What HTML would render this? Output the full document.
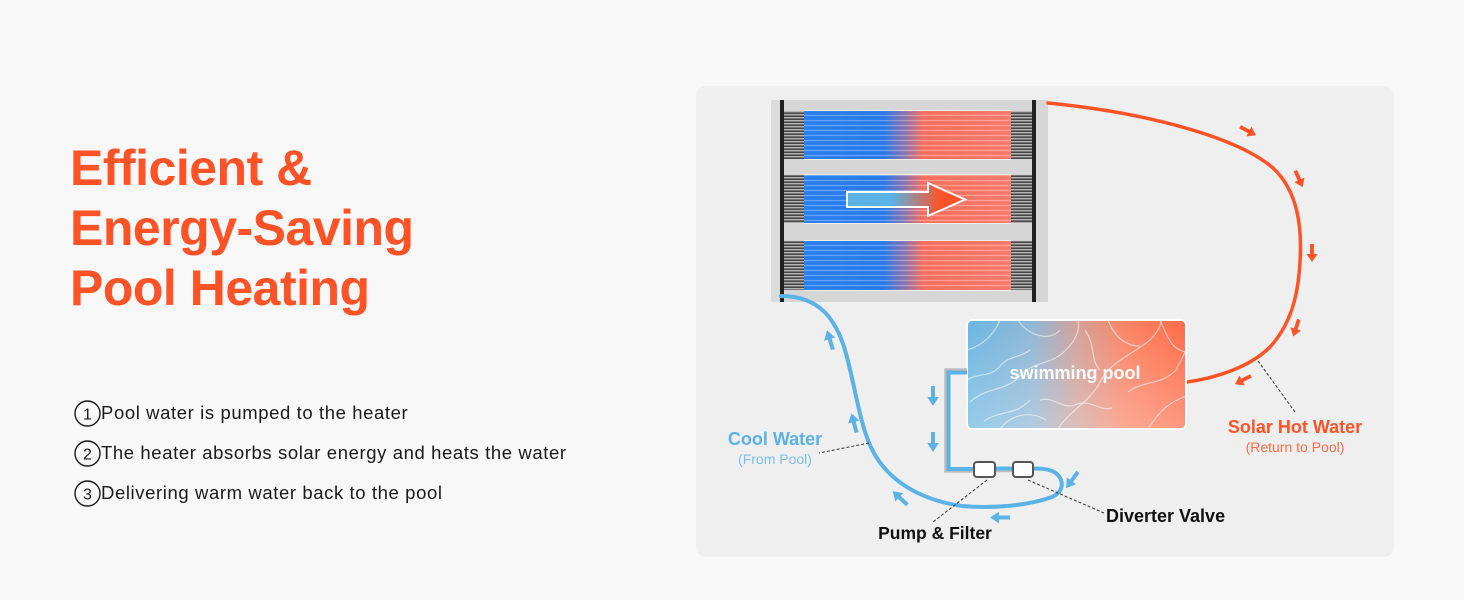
<!DOCTYPE html>
<html><head><meta charset="utf-8"><style>
html,body{margin:0;padding:0;background:#f8f8f8;}
body{width:1464px;height:600px;overflow:hidden;}
svg{display:block;}
</style></head><body>
<svg width="1464" height="600" viewBox="0 0 1464 600" xmlns="http://www.w3.org/2000/svg">
<defs>
  <linearGradient id="tubeGrad" x1="0" x2="1" y1="0" y2="0">
    <stop offset="0" stop-color="#2f84f4"/>
    <stop offset="0.38" stop-color="#2c7ff0"/>
    <stop offset="0.48" stop-color="#8a7ab8"/>
    <stop offset="0.58" stop-color="#ff7462"/>
    <stop offset="1" stop-color="#ff8070"/>
  </linearGradient>
  <pattern id="stripes" width="10" height="5" patternUnits="userSpaceOnUse">
    <rect x="0" y="0" width="10" height="1" fill="rgba(255,255,255,0.28)"/>
    <rect x="0" y="2.5" width="10" height="1" fill="rgba(0,0,40,0.10)"/>
  </pattern>
  <pattern id="strands" width="10" height="3" patternUnits="userSpaceOnUse">
    <rect x="0" y="0" width="10" height="3" fill="#767676"/>
    <rect x="0" y="0" width="10" height="1" fill="#b4b4b4"/>
    <rect x="0" y="2" width="10" height="1" fill="#454545"/>
  </pattern>
  <linearGradient id="arrowGrad" x1="847" x2="965" y1="0" y2="0" gradientUnits="userSpaceOnUse">
    <stop offset="0" stop-color="#5ab2e6"/>
    <stop offset="0.38" stop-color="#5ab2e6"/>
    <stop offset="0.8" stop-color="#ff5226"/>
    <stop offset="1" stop-color="#ff5226"/>
  </linearGradient>
  <linearGradient id="poolGrad" x1="0" x2="1" y1="0" y2="0">
    <stop offset="0" stop-color="#6ab6e2"/>
    <stop offset="0.3" stop-color="#8fb6d4"/>
    <stop offset="0.5" stop-color="#cfa29a"/>
    <stop offset="0.72" stop-color="#fb8466"/>
    <stop offset="1" stop-color="#ff6a46"/>
  </linearGradient>
  <linearGradient id="poolShade" x1="0" x2="0" y1="0" y2="1">
    <stop offset="0" stop-color="#ffffff" stop-opacity="0"/>
    <stop offset="1" stop-color="#ffffff" stop-opacity="0.3"/>
  </linearGradient>
  <clipPath id="poolClip"><rect x="967" y="320" width="219" height="109" rx="5"/></clipPath>
  <g id="arrO">
    <rect x="-9" y="-1.9" width="11" height="3.8" fill="#ff5226"/>
    <polygon points="1,-5.5 9,0 1,5.5" fill="#ff5226"/>
  </g>
  <g id="arrB">
    <rect x="-10" y="-2" width="12" height="4" fill="#5ab2e6"/>
    <polygon points="1,-5.8 10,0 1,5.8" fill="#5ab2e6"/>
  </g>
</defs>

<!-- diagram panel -->
<rect x="696" y="86" width="698" height="471" rx="10" fill="#efefef"/>

<!-- solar panel -->
<rect x="771" y="100" width="277" height="202" fill="#d6d6d6"/>
<rect x="771" y="100" width="9" height="202" fill="#dcdcdc"/>
<g>
  <rect x="784" y="111" width="20" height="48" fill="url(#strands)"/>
  <rect x="1011" y="111" width="21" height="48" fill="url(#strands)"/>
  <rect x="804" y="111" width="207" height="48" fill="url(#tubeGrad)"/>
  <rect x="804" y="111" width="207" height="48" fill="url(#stripes)"/>
  <rect x="804" y="110" width="207" height="1" fill="#f4efe6"/>
  <rect x="804" y="159" width="207" height="1" fill="#f4efe6"/>

  <rect x="784" y="175" width="20" height="48" fill="url(#strands)"/>
  <rect x="1011" y="175" width="21" height="48" fill="url(#strands)"/>
  <rect x="804" y="175" width="207" height="48" fill="url(#tubeGrad)"/>
  <rect x="804" y="175" width="207" height="48" fill="url(#stripes)"/>
  <rect x="804" y="174" width="207" height="1" fill="#f4efe6"/>
  <rect x="804" y="223" width="207" height="1" fill="#f4efe6"/>

  <rect x="784" y="241" width="20" height="49" fill="url(#strands)"/>
  <rect x="1011" y="241" width="21" height="49" fill="url(#strands)"/>
  <rect x="804" y="241" width="207" height="49" fill="url(#tubeGrad)"/>
  <rect x="804" y="241" width="207" height="49" fill="url(#stripes)"/>
  <rect x="804" y="240" width="207" height="1" fill="#f4efe6"/>
  <rect x="804" y="290" width="207" height="1" fill="#f4efe6"/>
</g>
<rect x="780" y="100" width="4" height="202" fill="#222"/>
<rect x="1032" y="100" width="4" height="202" fill="#222"/>
<polygon points="847,192 928,192 928,183 965,199.5 928,216 928,207 847,207" fill="url(#arrowGrad)" stroke="#ffffff" stroke-width="2" stroke-linejoin="miter"/>

<!-- orange return pipe -->
<path d="M1048,103 C1150,113 1238,138 1273,168 C1299,192 1302,230 1300,262 C1298,298 1290,325 1270,347 C1250,367 1216,378 1187,382" fill="none" stroke="#ff5226" stroke-width="3.5" stroke-linecap="round"/>
<use href="#arrO" transform="translate(1248,131) rotate(28)"/>
<use href="#arrO" transform="translate(1299,179) rotate(66)"/>
<use href="#arrO" transform="translate(1312,253) rotate(90)"/>
<use href="#arrO" transform="translate(1296,328) rotate(108)"/>
<use href="#arrO" transform="translate(1243,380) rotate(152)"/>

<!-- pool -->
<g clip-path="url(#poolClip)">
  <rect x="967" y="320" width="219" height="109" fill="url(#poolGrad)"/>
  <rect x="967" y="320" width="219" height="109" fill="url(#poolShade)"/>
  <g fill="none" stroke="#ffffff" stroke-opacity="0.55" stroke-width="1.2">
    <path d="M967,350 C985,345 995,332 1000,320"/>
    <path d="M970,402 C988,386 1005,392 1020,376 C1035,360 1050,366 1066,350 C1076,340 1080,330 1078,320"/>
    <path d="M1000,429 C1010,415 1030,410 1046,420"/>
    <path d="M1018,320 C1028,336 1050,342 1060,330"/>
    <path d="M1058,429 C1070,410 1090,402 1100,382 C1110,362 1130,356 1150,340 C1158,332 1160,326 1162,320"/>
    <path d="M1108,320 C1114,336 1125,346 1140,346"/>
    <path d="M1148,429 C1160,410 1170,402 1186,396"/>
    <path d="M1128,392 C1144,380 1160,386 1176,370 C1180,362 1184,355 1186,350"/>
    <path d="M984,421 C1000,410 1015,416 1030,400"/>
    <path d="M1085,330 C1096,346 1090,360 1100,370"/>
    <path d="M967,380 C980,372 990,378 1000,366 C1008,356 1020,358 1030,350"/>
    <path d="M1040,400 C1055,396 1062,410 1075,405 C1090,398 1100,412 1112,408"/>
    <path d="M1160,320 C1168,338 1172,350 1186,352"/>
  </g>
</g>
<rect x="967" y="320" width="219" height="109" rx="5" fill="none" stroke="#ffffff" stroke-width="2"/>
<text x="1075" y="379" text-anchor="middle" font-family="Liberation Sans, sans-serif" font-weight="bold" font-size="18" fill="#ffffff">swimming pool</text>

<!-- pipe from pool to pump -->
<path d="M967,369.5 H945.5 V471.5 H974" fill="none" stroke="#bdbdbd" stroke-width="2.5"/>
<path d="M967,372.5 H948.5 V469 H974" fill="none" stroke="#5ab2e6" stroke-width="4"/>
<path d="M995,471 H1013" fill="none" stroke="#bdbdbd" stroke-width="2.5"/>
<path d="M995,468.5 H1013" fill="none" stroke="#5ab2e6" stroke-width="4"/>

<!-- blue cool water pipe -->
<path d="M781,296 C820,296 836,320 845,350 C855,385 859,420 870,445 C885,480 920,500 962,506 C995,509 1030,505 1052,497 C1066,491 1064,476 1052,471 C1046,468.5 1040,468.5 1033,468.5" fill="none" stroke="#5ab2e6" stroke-width="4" stroke-linecap="round"/>

<!-- valves -->
<rect x="974" y="462" width="21" height="15" rx="3" fill="#ffffff" stroke="#555" stroke-width="2"/>
<rect x="1013" y="462" width="20" height="15" rx="3" fill="#ffffff" stroke="#555" stroke-width="2"/>

<!-- blue arrows -->
<use href="#arrB" transform="translate(830,340) rotate(-107)"/>
<use href="#arrB" transform="translate(854,423) rotate(-105)"/>
<use href="#arrB" transform="translate(933,396) rotate(90)"/>
<use href="#arrB" transform="translate(933,442) rotate(90)"/>
<use href="#arrB" transform="translate(900,498) rotate(-137)"/>
<use href="#arrB" transform="translate(1000,517.5) rotate(180)"/>
<use href="#arrB" transform="translate(1072,480) rotate(126)"/>

<!-- dashed leader lines -->
<g stroke="#333" stroke-width="1" stroke-dasharray="3,2" fill="none">
  <line x1="869" y1="443" x2="819" y2="453"/>
  <line x1="987" y1="480" x2="933" y2="522"/>
  <line x1="1028" y1="480" x2="1104" y2="513"/>
  <line x1="1258" y1="361" x2="1295" y2="412"/>
</g>

<!-- labels -->
<g font-family="Liberation Sans, sans-serif">
  <text x="775" y="445" text-anchor="middle" font-weight="bold" font-size="18" fill="#5ab2e6">Cool Water</text>
  <text x="775" y="464" text-anchor="middle" font-size="14" fill="#7cbfe9">(From Pool)</text>
  <text x="935" y="539" text-anchor="middle" font-weight="bold" font-size="17.5" fill="#111">Pump &amp; Filter</text>
  <text x="1106" y="522" font-weight="bold" font-size="18" fill="#111">Diverter Valve</text>
  <text x="1295" y="433" text-anchor="middle" font-weight="bold" font-size="18" fill="#ff5226">Solar Hot Water</text>
  <text x="1295" y="452" text-anchor="middle" font-size="14" fill="#ff6a44">(Return to Pool)</text>
</g>

<!-- left title -->
<g font-family="Liberation Sans, sans-serif" font-weight="bold" font-size="50" fill="#ff5226" letter-spacing="-0.5">
  <text x="70" y="185">Efficient &amp;</text>
  <text x="70" y="245">Energy-Saving</text>
  <text x="70" y="305">Pool Heating</text>
</g>

<!-- list -->
<g font-family="Liberation Sans, sans-serif" fill="#1a1a1a">
  <circle cx="87.5" cy="413.5" r="12.5" fill="none" stroke="#1a1a1a" stroke-width="1.4"/>
  <text x="87.5" y="419.5" text-anchor="middle" font-size="16">1</text>
  <text x="101" y="419" font-size="18.5" letter-spacing="0.6">Pool water is pumped to the heater</text>

  <circle cx="87.5" cy="453.5" r="12.5" fill="none" stroke="#1a1a1a" stroke-width="1.4"/>
  <text x="87.5" y="459.5" text-anchor="middle" font-size="16">2</text>
  <text x="101" y="459" font-size="18.5" letter-spacing="0.6">The heater absorbs solar energy and heats the water</text>

  <circle cx="87.5" cy="493.5" r="12.5" fill="none" stroke="#1a1a1a" stroke-width="1.4"/>
  <text x="87.5" y="499.5" text-anchor="middle" font-size="16">3</text>
  <text x="101" y="499" font-size="18.5" letter-spacing="0.6">Delivering warm water back to the pool</text>
</g>
</svg>
</body></html>
